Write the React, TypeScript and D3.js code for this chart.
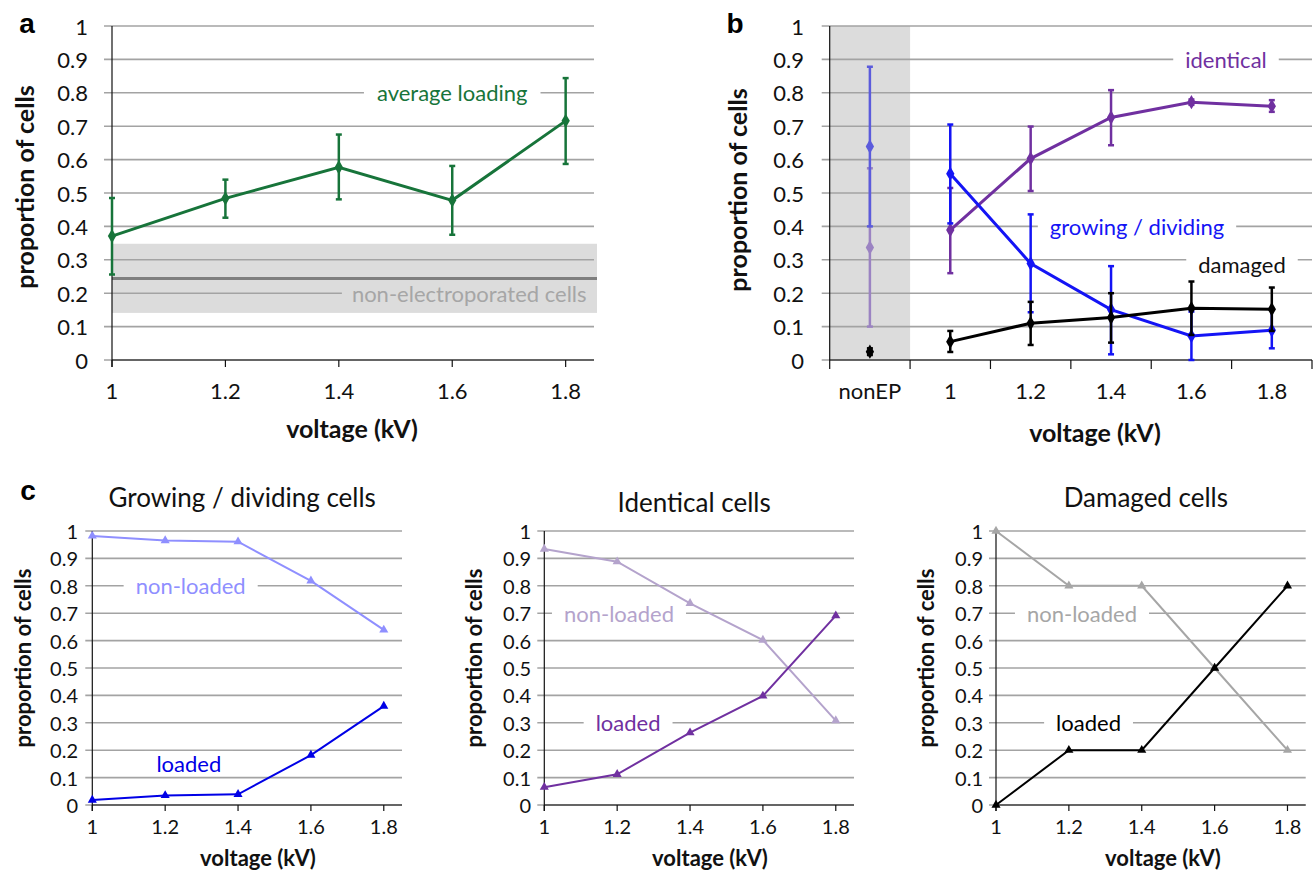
import React, { useLayoutEffect, useRef, useState } from "react";
import * as d3 from "d3";

const W = 1314;
const H = 874;
const FONT = "Lato, 'Open Sans', sans-serif";
const GRID = "#a3a3a3";

const voltages = [1, 1.2, 1.4, 1.6, 1.8];
const voltageLabels = ["1", "1.2", "1.4", "1.6", "1.8"];
const yTickValues = [0, 0.1, 0.2, 0.3, 0.4, 0.5, 0.6, 0.7, 0.8, 0.9, 1];
const yTickLabels = ["0", "0.1", "0.2", "0.3", "0.4", "0.5", "0.6", "0.7", "0.8", "0.9", "1"];

// panel a
const avgLoading = [0.371, 0.484, 0.577, 0.478, 0.716];
const avgLoadingLow = [0.256, 0.426, 0.481, 0.375, 0.587];
const avgLoadingHigh = [0.485, 0.54, 0.675, 0.581, 0.844];
const nonEpLevel = 0.244;
const nonEpBand = [0.141, 0.348];

// panel b
const bCategories = ["nonEP", "1", "1.2", "1.4", "1.6", "1.8"];
const identical = [0.337, 0.389, 0.603, 0.726, 0.772, 0.76];
const identicalLow = [0.1, 0.26, 0.506, 0.643, 0.764, 0.743];
const identicalHigh = [0.574, 0.515, 0.699, 0.808, 0.78, 0.778];
const growing = [0.639, 0.558, 0.289, 0.151, 0.072, 0.089];
const growingLow = [0.4, 0.409, 0.143, 0.017, 0.0, 0.035];
const growingHigh = [0.878, 0.705, 0.436, 0.281, 0.145, 0.15];
const damaged = [0.025, 0.055, 0.11, 0.127, 0.155, 0.152];
const damagedLow = [0.015, 0.024, 0.045, 0.052, 0.075, 0.087];
const damagedHigh = [0.035, 0.087, 0.174, 0.2, 0.235, 0.217];

// panel c
const growLoaded = [0.018, 0.035, 0.039, 0.182, 0.361];
const growNonLoaded = [0.982, 0.965, 0.961, 0.818, 0.639];
const identLoaded = [0.065, 0.112, 0.264, 0.398, 0.691];
const identNonLoaded = [0.934, 0.888, 0.736, 0.602, 0.308];
const damLoaded = [0, 0.2, 0.2, 0.5, 0.8];
const damNonLoaded = [1, 0.8, 0.8, 0.5, 0.2];

function Label({ x, y, text, color, size, bg, pad = 12 }: any) {
  const ref = useRef<SVGTextElement>(null);
  const [w, setW] = useState(0);
  useLayoutEffect(() => {
    if (ref.current) setW(ref.current.getComputedTextLength());
  }, [text, size]);
  return (
    <g>
      <rect x={x - w / 2 - pad} y={y - size * 0.55} width={w + pad * 2} height={size * 1.1} fill={bg} />
      <text ref={ref} x={x} y={y} textAnchor="middle" dominantBaseline="central" fill={color} fontSize={size} fontFamily={FONT}>
        {text}
      </text>
    </g>
  );
}

function YAxis({ y, x0, x1, labelRight, size, tick = 8 }: any) {
  return (
    <g>
      {yTickValues.map((v, i) => (
        <g key={i}>
          <line x1={x0 - tick} x2={x1} y1={y(v)} y2={y(v)} stroke={GRID} strokeWidth={1.6} />
          <text x={labelRight} y={y(v)} textAnchor="end" dominantBaseline="central" fontSize={size} fontFamily={FONT} fill="#111">
            {yTickLabels[i]}
          </text>
        </g>
      ))}
    </g>
  );
}

function ErrorBars({ xs, lows, highs, color, cap = 3, width = 2.5 }: any) {
  return (
    <g stroke={color} strokeWidth={width}>
      {xs.map((x: number, i: number) => (
        <g key={i}>
          <line x1={x} x2={x} y1={lows[i]} y2={highs[i]} />
          <line x1={x - cap} x2={x + cap} y1={lows[i]} y2={lows[i]} />
          <line x1={x - cap} x2={x + cap} y1={highs[i]} y2={highs[i]} />
        </g>
      ))}
    </g>
  );
}

function Markers({ xs, ys, color, type, size }: any) {
  const p = d3.symbol(type, size)() as string;
  return (
    <g fill={color}>
      {xs.map((x: number, i: number) => (
        <path key={i} d={p} transform={`translate(${x},${ys[i]})`} />
      ))}
    </g>
  );
}

function AxisTitles({ yx, yy, vx, vy, size }: any) {
  return (
    <g fontFamily={FONT} fontWeight="bold" fontSize={size} fill="#111" textAnchor="middle">
      <text transform={`translate(${yx},${yy}) rotate(-90)`} dominantBaseline="central">proportion of cells</text>
      <text x={vx} y={vy} dominantBaseline="central">voltage (kV)</text>
    </g>
  );
}

function PanelA() {
  const x = d3.scaleLinear().domain([1, 1.85]).range([112, 594]);
  const y = d3.scaleLinear().domain([0, 1]).range([360, 26]);
  const line = d3.line<number>().x((_, i) => x(voltages[i])).y((d) => y(d));
  const xs = voltages.map((v) => x(v));
  return (
    <g>
      <rect x={x(1)} y={y(nonEpBand[1])} width={597 - x(1)} height={y(nonEpBand[0]) - y(nonEpBand[1])} fill="#dcdcdc" />
      <YAxis y={y} x0={x(1)} x1={594} labelRight={88} size={22} />
      <line x1={x(1)} x2={597} y1={y(nonEpLevel)} y2={y(nonEpLevel)} stroke="#7f7f7f" strokeWidth={3} />
      <Label x={x(1.63)} y={y(0.2)} text="non-electroporated cells" color="#a6a6a6" size={22} bg="#dcdcdc" pad={10} />
      <Label x={x(1.6)} y={y(0.8)} text="average loading" color="#17743a" size={22} bg="#fff" pad={13} />
      <line x1={x(1)} x2={x(1)} y1={y(1)} y2={y(0) + 7} stroke="#111" strokeWidth={1.2} />
      <line x1={x(1)} x2={594} y1={y(0)} y2={y(0)} stroke="#111" strokeWidth={1.2} />
      {voltages.map((v, i) => (
        <g key={i}>
          <line x1={x(v)} x2={x(v)} y1={y(0)} y2={y(0) + 7} stroke="#111" strokeWidth={1.2} />
          <text x={x(v)} y={390} textAnchor="middle" dominantBaseline="central" fontSize={22} fontFamily={FONT} fill="#111">
            {voltageLabels[i]}
          </text>
        </g>
      ))}
      <path d={line(avgLoading) as string} fill="none" stroke="#17743a" strokeWidth={3} />
      <ErrorBars xs={xs} lows={avgLoadingLow.map(y)} highs={avgLoadingHigh.map(y)} color="#17743a" />
      <Markers xs={xs} ys={avgLoading.map(y)} color="#17743a" type={d3.symbolDiamond} size={60} />
      <AxisTitles yx={24} yy={187} vx={352} vy={428} size={25} />
      <text x={27} y={23} textAnchor="middle" dominantBaseline="central" fontFamily="'Liberation Sans', Arial, sans-serif" fontWeight="bold" fontSize={28}>a</text>
    </g>
  );
}

function PanelB() {
  const x = d3.scaleBand().domain(bCategories).range([829.7, 1312]).padding(0);
  const cx = (i: number) => (x(bCategories[i]) as number) + x.bandwidth() / 2;
  const y = d3.scaleLinear().domain([0, 1]).range([360, 26]);
  const idx = [1, 2, 3, 4, 5];
  const series = [
    { v: identical, lo: identicalLow, hi: identicalHigh, c: "#7030a0", c0: "#9b83c2" },
    { v: growing, lo: growingLow, hi: growingHigh, c: "#1414f5", c0: "#5b5bdc" },
    { v: damaged, lo: damagedLow, hi: damagedHigh, c: "#000", c0: "#000" },
  ];
  return (
    <g>
      <rect x={x("nonEP")} y={y(1)} width={x.bandwidth()} height={y(0) - y(1)} fill="#dcdcdc" />
      <YAxis y={y} x0={829.7} x1={1312} labelRight={804} size={22} />
      <Label x={1226} y={y(0.9)} text="identical" color="#7030a0" size={22} bg="#fff" />
      <Label x={1137} y={y(0.4)} text="growing / dividing" color="#1414f5" size={22} bg="#fff" />
      <Label x={1242} y={y(0.3) + 5} text="damaged" color="#111" size={22} bg="#fff" />
      <line x1={829.7} x2={829.7} y1={y(1)} y2={y(0) + 9} stroke="#111" strokeWidth={1.2} />
      <line x1={829.7} x2={1312} y1={y(0)} y2={y(0)} stroke="#111" strokeWidth={1.2} />
      {bCategories.map((c, i) => (
        <g key={i}>
          <line x1={(x(c) as number) + x.bandwidth()} x2={(x(c) as number) + x.bandwidth()} y1={y(0)} y2={y(0) + 9} stroke="#111" strokeWidth={1.2} />
          <text x={cx(i)} y={390} textAnchor="middle" dominantBaseline="central" fontSize={22} fontFamily={FONT} fill="#111">
            {c}
          </text>
        </g>
      ))}
      {series.map((s, k) => {
        const l = d3.line<number>().x((i) => cx(i)).y((i) => y(s.v[i]));
        return (
          <g key={k}>
            <ErrorBars xs={[cx(0)]} lows={[y(s.lo[0])]} highs={[y(s.hi[0])]} color={s.c0} />
            <Markers xs={[cx(0)]} ys={[y(s.v[0])]} color={s.c0} type={d3.symbolDiamond} size={60} />
            <path d={l(idx) as string} fill="none" stroke={s.c} strokeWidth={3} />
            <ErrorBars xs={idx.map(cx)} lows={idx.map((i) => y(s.lo[i]))} highs={idx.map((i) => y(s.hi[i]))} color={s.c} />
            <Markers xs={idx.map(cx)} ys={idx.map((i) => y(s.v[i]))} color={s.c} type={d3.symbolDiamond} size={60} />
          </g>
        );
      })}
      <AxisTitles yx={737} yy={190} vx={1095} vy={432} size={25} />
      <text x={735} y={23} textAnchor="middle" dominantBaseline="central" fontFamily="'Liberation Sans', Arial, sans-serif" fontWeight="bold" fontSize={28}>b</text>
    </g>
  );
}

function PanelC({ x0, title, titleY, loaded, nonLoaded, cLoaded, cNon, nlPos, lPos, labelRight, yTitleX, vx }: any) {
  const x = d3.scaleLinear().domain([1, 1.85]).range([x0, x0 + 309.7]);
  const y = d3.scaleLinear().domain([0, 1]).range([805, 531]);
  const xs = voltages.map((v) => x(v));
  const line = d3.line<number>().x((_, i) => x(voltages[i])).y((d) => y(d));
  const right = x(1.85);
  return (
    <g>
      <YAxis y={y} x0={x0} x1={right} labelRight={labelRight} size={20} tick={7} />
      <Label x={x(nlPos[0])} y={y(nlPos[1])} text="non-loaded" color={cNon} size={22} bg="#fff" pad={12} />
      <Label x={x(lPos[0])} y={y(lPos[1])} text="loaded" color={cLoaded} size={22} bg="#fff" pad={12} />
      <line x1={x0} x2={x0} y1={y(1)} y2={y(0) + 6} stroke="#111" strokeWidth={1.2} />
      <line x1={x0} x2={right} y1={y(0)} y2={y(0)} stroke="#111" strokeWidth={1.2} />
      {voltages.map((v, i) => (
        <g key={i}>
          <line x1={x(v)} x2={x(v)} y1={y(0)} y2={y(0) + 6} stroke="#111" strokeWidth={1.2} />
          <text x={x(v)} y={826} textAnchor="middle" dominantBaseline="central" fontSize={20} fontFamily={FONT} fill="#111">
            {voltageLabels[i]}
          </text>
        </g>
      ))}
      <path d={line(nonLoaded) as string} fill="none" stroke={cNon} strokeWidth={2} />
      <Markers xs={xs} ys={nonLoaded.map(y)} color={cNon} type={d3.symbolTriangle} size={36} />
      <path d={line(loaded) as string} fill="none" stroke={cLoaded} strokeWidth={2} />
      <Markers xs={xs} ys={loaded.map(y)} color={cLoaded} type={d3.symbolTriangle} size={36} />
      <AxisTitles yx={yTitleX} yy={658} vx={vx} vy={857} size={22} />
      <text x={(x0 + right) / 2 - 5} y={titleY} textAnchor="middle" dominantBaseline="central" fontFamily={FONT} fontSize={26} fill="#111">
        {title}
      </text>
    </g>
  );
}

export default function App() {
  return (
    <svg width={W} height={H} viewBox={`0 0 ${W} ${H}`} style={{ position: "absolute", left: 0, top: 0, background: "#fff" }}>
      <rect width={W} height={H} fill="#fff" />
      <PanelA />
      <PanelB />
      <PanelC x0={92.3} title="Growing / dividing cells" titleY={497} loaded={growLoaded} nonLoaded={growNonLoaded}
        cLoaded="#0000e6" cNon="#8f8fff" nlPos={[1.27, 0.8]} lPos={[1.265, 0.153]} labelRight={78} yTitleX={22} vx={258} />
      <PanelC x0={544.3} title="Identical cells" titleY={502} loaded={identLoaded} nonLoaded={identNonLoaded}
        cLoaded="#7030a0" cNon="#b4a3cc" nlPos={[1.205, 0.7]} lPos={[1.23, 0.3]} labelRight={531} yTitleX={473} vx={710} />
      <PanelC x0={996} title="Damaged cells" titleY={497} loaded={damLoaded} nonLoaded={damNonLoaded}
        cLoaded="#000" cNon="#a6a6a6" nlPos={[1.236, 0.7]} lPos={[1.254, 0.3]} labelRight={983} yTitleX={925} vx={1163} />
      <text x={28} y={490} textAnchor="middle" dominantBaseline="central" fontFamily="'Liberation Sans', Arial, sans-serif" fontWeight="bold" fontSize={28}>c</text>
    </svg>
  );
}
